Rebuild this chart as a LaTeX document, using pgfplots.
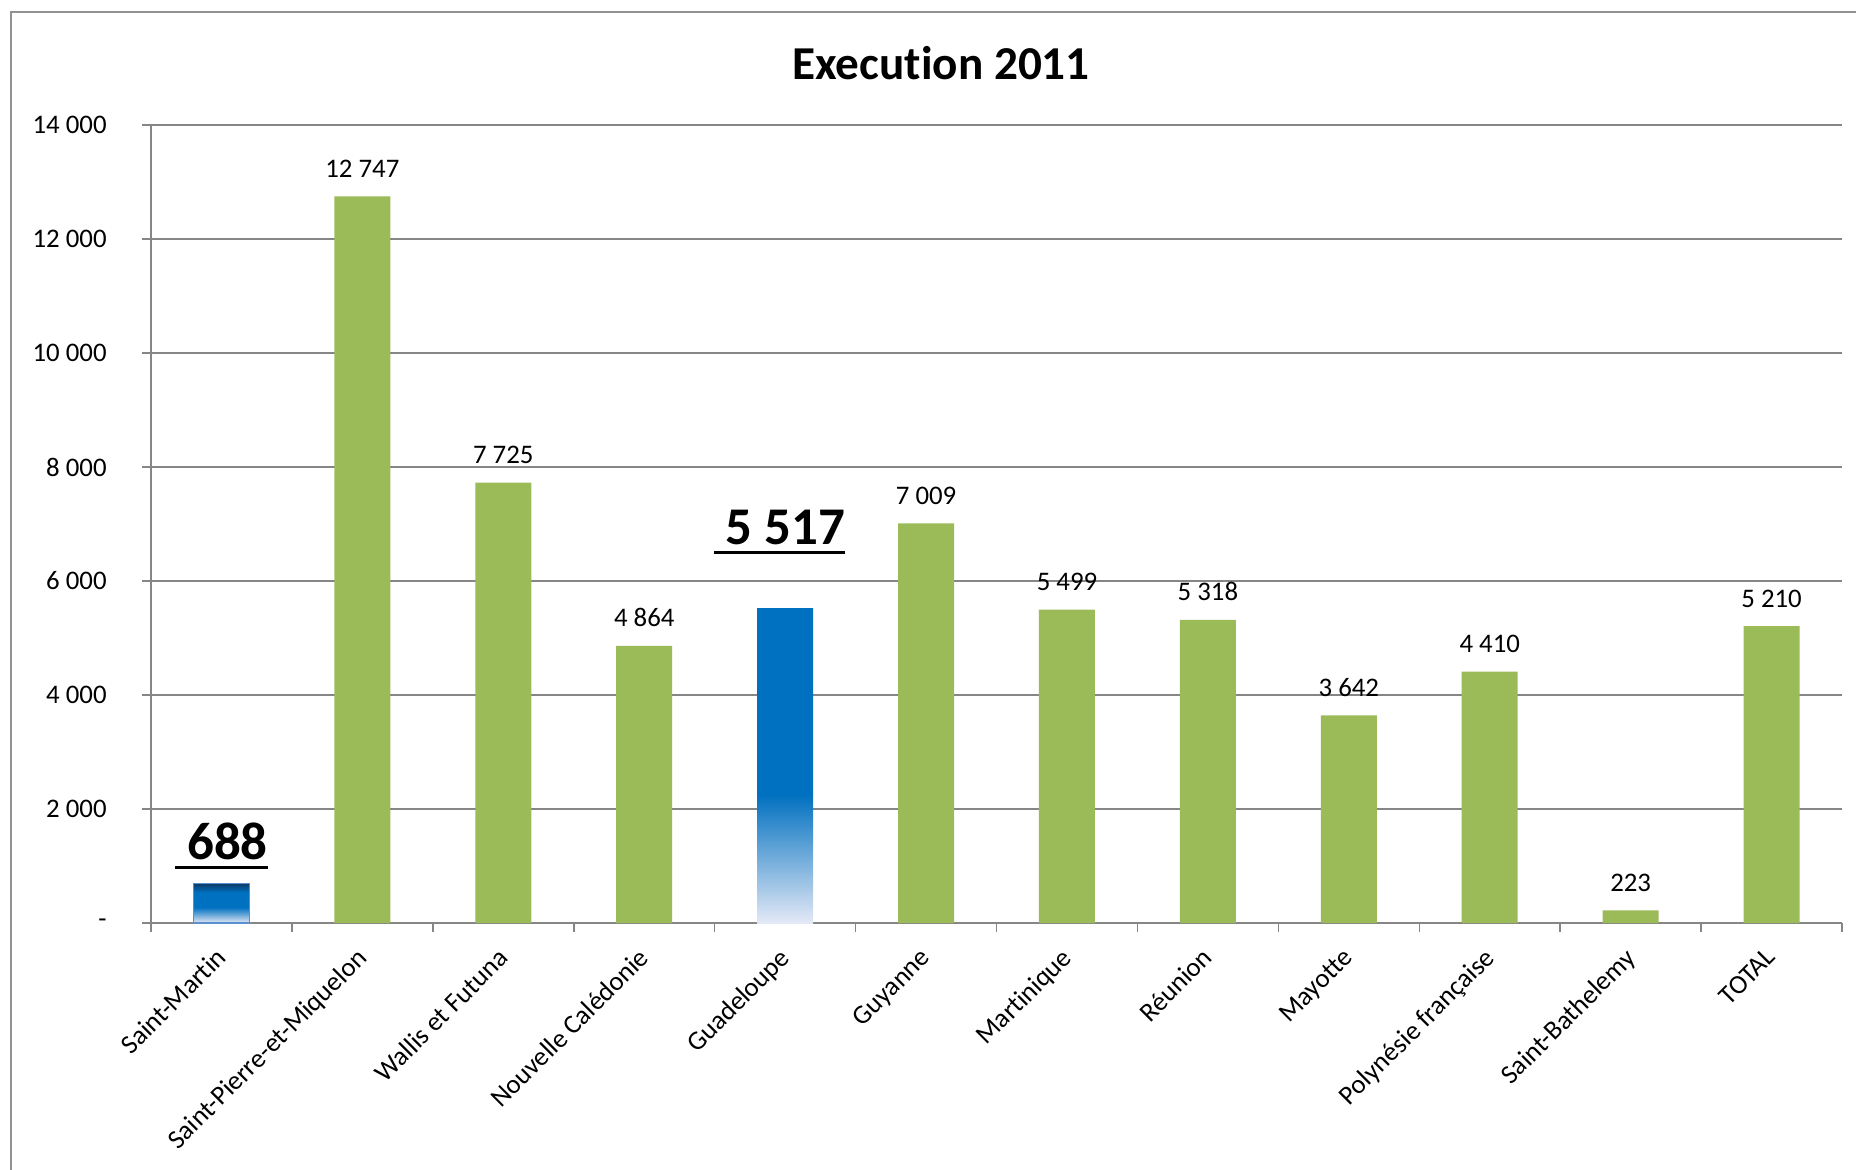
\documentclass[border=0pt]{standalone}
\usepackage{pgfplots}
\pgfplotsset{compat=1.18}
\usepackage{fontspec}
\setmainfont{Carlito}[Ligatures={NoCommon,NoContextual}]
\definecolor{bargreen}{HTML}{9BBB59}
\definecolor{gridgray}{HTML}{868686}
\definecolor{xblue}{HTML}{0070C0}
\definecolor{xlight}{HTML}{E4E9F6}
\definecolor{xnavy}{HTML}{0B3D6B}
\definecolor{xoutline}{HTML}{5B8FCF}
\pgfdeclareverticalshading{guad}{100bp}{color(0bp)=(xlight); color(25bp)=(xlight); color(45.5bp)=(xblue); color(100bp)=(xblue)}
\pgfdeclareverticalshading{smart}{100bp}{color(0bp)=(xlight); color(25bp)=(xlight); color(45bp)=(xblue); color(64bp)=(xblue); color(75bp)=(xnavy); color(100bp)=(xnavy)}
\newcommand\ulab[1]{\setbox0\hbox{#1}\rlap{\rule[-4.85pt]{\wd0}{1.65pt}}\box0}
\begin{document}
\begin{tikzpicture}
\path[use as bounding box] (0pt,0pt) rectangle (928pt,584.5pt);
\draw[gridgray!90, line width=1pt] (5.25pt,-5pt) -- (5.25pt,578.5pt) -- (935pt,578.5pt);
\node[font=\bfseries\fontsize{23.6}{28}\selectfont, anchor=base] at (470.5pt,544.5pt) {Execution 2011};
\begin{axis}[
  at={(75.5pt,123pt)}, anchor=south west,
  scale only axis, width=845.5pt, height=399pt,
  xmin=-0.5, xmax=11.5, ymin=0, ymax=14000,
  scaled y ticks=false,
  axis lines*=left,
  axis line style={gridgray, line width=0.75pt},
  ymajorgrids, major grid style={gridgray, line width=0.75pt},
  tick style={gridgray, line width=0.75pt},
  tick align=outside, major tick length=4.5pt, minor tick length=4.5pt,
  ytick={0,2000,4000,6000,8000,10000,12000,14000},
  yticklabels={-\hspace{5pt},2~000,4~000,6~000,8~000,10~000,12~000,14~000},
  xtick={0,1,2,3,4,5,6,7,8,9,10,11},
  xticklabels={Saint-Martin,Saint-Pierre-et-Miquelon,Wallis et Futuna,Nouvelle Calédonie,Guadeloupe,Guyanne,Martinique,Réunion,Mayotte,Polynésie française,Saint-Bathelemy,TOTAL},
  every major x tick/.append style={draw=none},
  minor xtick={-0.5,0.5,...,11.5},
  ticklabel style={font=\fontsize{13.4}{16}\selectfont},
  xticklabel style={xshift=-3.5pt, yshift=-7pt, rotate=45, anchor=north east, inner sep=0pt},
  yticklabel style={inner sep=0pt, xshift=-17.5pt},
  /pgf/number format/.cd, 1000 sep={~}, assume math mode=true, /pgfplots/.cd,
  clip=false,
]
\addplot[ybar, bar width=28pt, bar shift=0pt, fill=bargreen, draw=none,
  nodes near coords={\pgfmathprintnumber{\pgfplotspointmeta}},
  every node near coord/.append style={font=\fontsize{13.4}{16}\selectfont, anchor=base, inner sep=0pt, yshift=9.5pt}]
  coordinates {(1,12747) (2,7725) (3,4864) (5,7009) (6,5499) (7,5318) (8,3642) (9,4410) (10,223) (11,5210)};
\addplot[ybar, bar width=28pt, bar shift=0pt, shade, shading=smart, draw=xoutline, line width=0.6pt,
  nodes near coords={\ulab{~\pgfmathprintnumber{\pgfplotspointmeta}}},
  every node near coord/.append style={font=\bfseries\fontsize{26.5}{30}\selectfont, anchor=base, inner sep=0pt, yshift=12pt}]
  coordinates {(0,688)};
\addplot[ybar, bar width=28pt, bar shift=0pt, shade, shading=guad, draw=none,
  nodes near coords={\ulab{~\pgfmathprintnumber{\pgfplotspointmeta}}},
  every node near coord/.append style={font=\bfseries\fontsize{26.5}{30}\selectfont, anchor=base, inner sep=0pt, yshift=32pt, xshift=-2.75pt}]
  coordinates {(4,5517)};
\end{axis}
\end{tikzpicture}
\end{document}
